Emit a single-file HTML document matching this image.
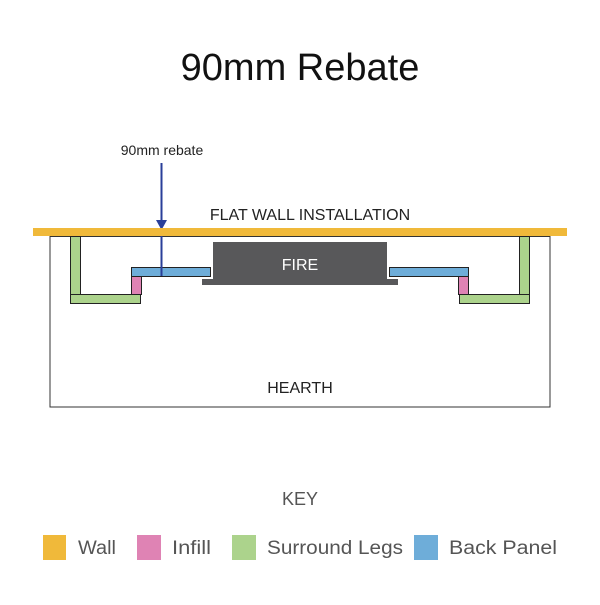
<!DOCTYPE html>
<html><head><style>body{margin:0;background:#fff}</style></head><body>
<svg width="600" height="600" xmlns="http://www.w3.org/2000/svg" font-family="Liberation Sans, sans-serif">
<rect width="600" height="600" fill="#fff"/>
<text x="300" y="80" font-size="38" text-anchor="middle" fill="#111">90mm Rebate</text>
<text x="162" y="155" font-size="14" text-anchor="middle" fill="#222">90mm rebate</text>
<line x1="161.5" y1="163" x2="161.5" y2="222" stroke="#2a3f99" stroke-width="2"/>
<polygon points="156,220 167,220 161.5,230" fill="#2a3f99"/>
<text x="310" y="220" font-size="16" text-anchor="middle" fill="#222">FLAT WALL INSTALLATION</text>
<rect x="50" y="236" width="500" height="171" fill="none" stroke="#333" stroke-width="1"/>
<rect x="33" y="228" width="534" height="8" fill="#f0b93a"/>
<line x1="50" y1="236.5" x2="550" y2="236.5" stroke="#333" stroke-width="1"/>
<text x="300" y="393" font-size="16" text-anchor="middle" fill="#222">HEARTH</text>
<g stroke="#222" stroke-width="1">
<rect x="70.5" y="236.5" width="10" height="58" fill="#acd38c"/>
<rect x="70.5" y="294.5" width="70" height="9" fill="#acd38c"/>
<rect x="131.5" y="276.5" width="10" height="18" fill="#df83b4"/>
<rect x="131.5" y="267.5" width="79" height="9" fill="#6eadd9"/>
<rect x="519.5" y="236.5" width="10" height="58" fill="#acd38c"/>
<rect x="459.5" y="294.5" width="70" height="9" fill="#acd38c"/>
<rect x="458.5" y="276.5" width="10" height="18" fill="#df83b4"/>
<rect x="389.5" y="267.5" width="79" height="9" fill="#6eadd9"/>
</g>
<line x1="161.5" y1="236" x2="161.5" y2="276" stroke="#2a3f99" stroke-width="2"/>
<rect x="202" y="279" width="196" height="6" fill="#58585a"/>
<rect x="213" y="242" width="174" height="38" fill="#58585a"/>
<text x="300" y="270" font-size="16" text-anchor="middle" fill="#fff">FIRE</text>
<text x="300" y="505" font-size="18" text-anchor="middle" fill="#555">KEY</text>
<rect x="43" y="535" width="23" height="25" fill="#f0b93a"/>
<rect x="137" y="535" width="24" height="25" fill="#df83b4"/>
<rect x="232" y="535" width="24" height="25" fill="#acd38c"/>
<rect x="414" y="535" width="24" height="25" fill="#6eadd9"/>
<g font-size="19" fill="#555">
<text x="78" y="554" textLength="38" lengthAdjust="spacingAndGlyphs">Wall</text>
<text x="172" y="554" textLength="39" lengthAdjust="spacingAndGlyphs">Infill</text>
<text x="267" y="554" textLength="136" lengthAdjust="spacingAndGlyphs">Surround Legs</text>
<text x="449" y="554" textLength="108" lengthAdjust="spacingAndGlyphs">Back Panel</text>
</g>
</svg>
</body></html>
